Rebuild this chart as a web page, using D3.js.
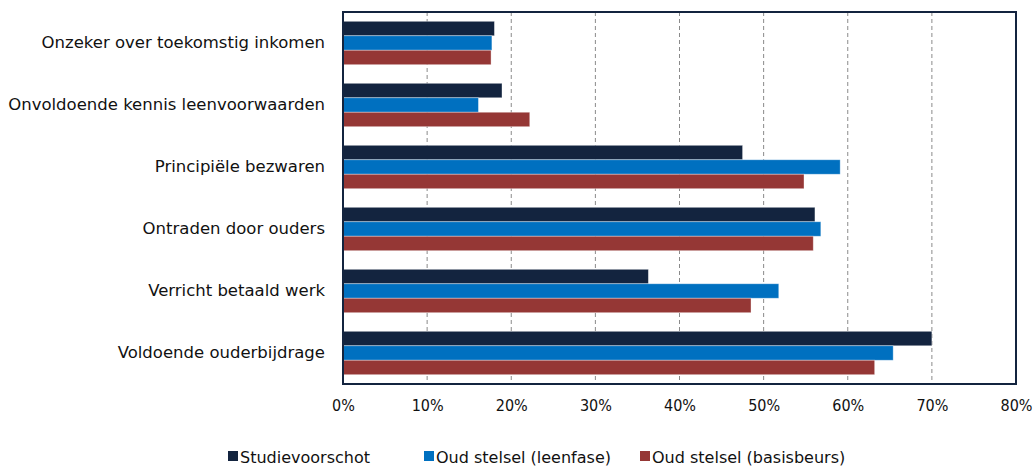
<!DOCTYPE html>
<html>
<head>
<meta charset="utf-8">
<script src="https://cdn.jsdelivr.net/npm/d3@7"></script>
<style>
  html, body { margin: 0; padding: 0; background: #fff; }
  svg text { font-family: "DejaVu Sans", sans-serif; fill: #111; }
</style>
</head>
<body>
<svg id="chart" width="1033" height="466"></svg>
<script>
// Redenen om niet te lenen, aandeel per stelsel
const categories = [
  "Onzeker over toekomstig inkomen",
  "Onvoldoende kennis leenvoorwaarden",
  "Principiële bezwaren",
  "Ontraden door ouders",
  "Verricht betaald werk",
  "Voldoende ouderbijdrage"
];
const seriesNames = ["Studievoorschot", "Oud stelsel (leenfase)", "Oud stelsel (basisbeurs)"];
const studievoorschot = [0.180, 0.189, 0.475, 0.561, 0.363, 0.700];
const leenfase        = [0.177, 0.161, 0.591, 0.568, 0.518, 0.654];
const basisbeurs      = [0.176, 0.222, 0.548, 0.559, 0.485, 0.632];
const tickValues = [0, 0.1, 0.2, 0.3, 0.4, 0.5, 0.6, 0.7, 0.8];
const colors = ["#13243f", "#0070c0", "#953735"];

const series = [studievoorschot, leenfase, basisbeurs];

const svg = d3.select("#chart");
const plot = { left: 343, right: 1016, top: 12, bottom: 384 };

const x = d3.scaleLinear().domain([0, 0.8]).range([plot.left, plot.right]);
const y = d3.scaleBand().domain(categories).range([plot.top, plot.bottom]).paddingInner(0.3).paddingOuter(0.15);
const ySub = d3.scaleBand().domain(seriesNames).range([0, y.bandwidth()]).padding(0);

// dashed vertical gridlines
svg.append("g")
  .selectAll("line")
  .data(tickValues.filter(v => v > 0 && v < 0.8))
  .join("line")
  .attr("x1", d => x(d)).attr("x2", d => x(d))
  .attr("y1", plot.top).attr("y2", plot.bottom)
  .attr("stroke", "#8a8a8a")
  .attr("stroke-width", 1)
  .attr("stroke-dasharray", "4,3");

// bars
const groups = svg.append("g")
  .selectAll("g")
  .data(categories)
  .join("g")
  .attr("transform", d => `translate(0,${y(d)})`);

groups.selectAll("rect")
  .data((cat, i) => series.map((s, j) => ({ name: seriesNames[j], value: s[i], color: colors[j] })))
  .join("rect")
  .attr("x", x(0))
  .attr("y", d => ySub(d.name))
  .attr("width", d => x(d.value) - x(0))
  .attr("height", ySub.bandwidth())
  .attr("fill", d => d.color)
  .attr("stroke", "rgba(255,255,255,0.45)")
  .attr("stroke-width", 0.8);

// frame
svg.append("rect")
  .attr("x", plot.left).attr("y", plot.top)
  .attr("width", plot.right - plot.left).attr("height", plot.bottom - plot.top)
  .attr("fill", "none")
  .attr("stroke", "#13243f")
  .attr("stroke-width", 2);

// x axis labels
const xAxis = d3.axisBottom(x)
  .tickValues(tickValues)
  .tickFormat(d3.format(".0%"))
  .tickSize(0)
  .tickPadding(16);
const xg = svg.append("g").attr("transform", `translate(0,${plot.bottom})`).call(xAxis);
xg.select(".domain").remove();
xg.selectAll("text").style("font-size", "16px").style("font-family", "DejaVu Sans Condensed, DejaVu Sans, sans-serif").attr("fill", "#111");

// category labels
const yAxis = d3.axisLeft(y).tickSize(0).tickPadding(18);
const yg = svg.append("g").attr("transform", `translate(${plot.left},0)`).call(yAxis);
yg.select(".domain").remove();
yg.selectAll("text").style("font-size", "16.5px").attr("fill", "#111");

// legend
const legendItems = [
  { name: seriesNames[0], x: 228 },
  { name: seriesNames[1], x: 424 },
  { name: seriesNames[2], x: 640 }
];
const lg = svg.append("g").selectAll("g").data(legendItems).join("g")
  .attr("transform", d => `translate(${d.x},457)`);
lg.append("rect").attr("x", 0).attr("y", -6).attr("width", 10).attr("height", 10)
  .attr("fill", (d, i) => colors[i]);
lg.append("text").attr("x", 12).attr("y", 0).attr("dy", "0.35em")
  .style("font-size", "16px")
  .text(d => d.name);
</script>
</body>
</html>
